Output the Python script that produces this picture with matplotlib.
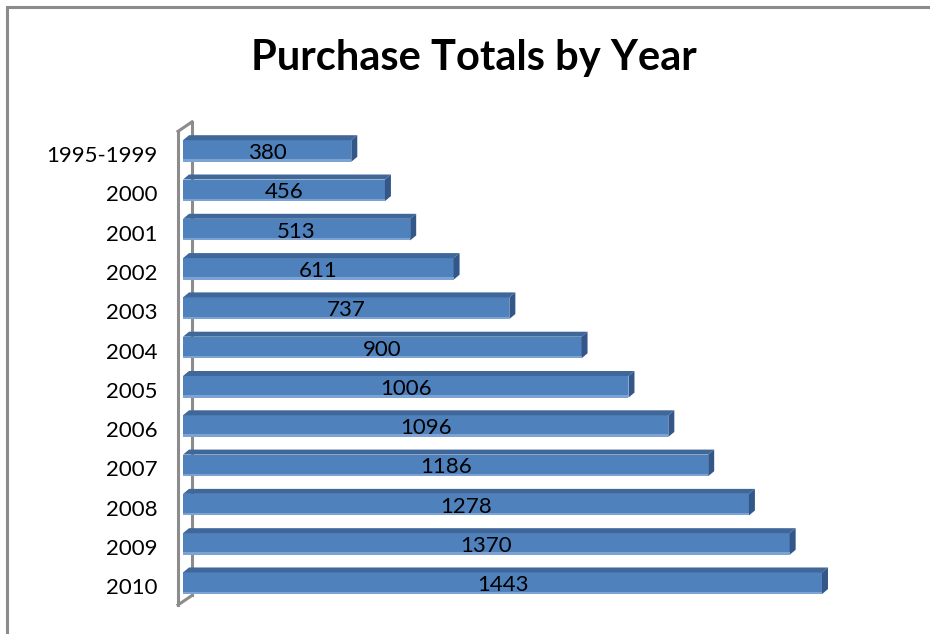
import numpy as np
import matplotlib
matplotlib.use('Agg')
from matplotlib import pyplot
from matplotlib import transforms
from matplotlib.patches import Polygon, Rectangle
from matplotlib.lines import Line2D


years = ['1995-1999', '2000', '2001', '2002', '2003', '2004', '2005',
         '2006', '2007', '2008', '2009', '2010']
totals = [380, 456, 513, 611, 737, 900, 1006, 1096, 1186, 1278, 1370, 1443]

pyplot.rcParams['font.family'] = ['Lato', 'DejaVu Sans']

front_color = '#4F81BD'
top_color = '#3F6799'
side_color = '#34578A'
strip_color = '#7DA3D4'
wall_color = '#8C8C8C'

fig = pyplot.figure(figsize=(9.3, 6.34), dpi=100)
ax = fig.add_axes([0.1968, 0.049, 0.7618, 0.7928 - 0.049])
ax.set_xlim(0, 1600)
ax.set_ylim(len(years) - 0.5, -0.5)
ax.set_facecolor('none')
for s in ax.spines.values():
    s.set_visible(False)
ax.set_xticks([])

# pixel -> data scale so the 3d faces keep a fixed depth on screen
o = ax.transData.transform((0, 0))
sx = ax.transData.transform((1, 0))[0] - o[0]
sy = o[1] - ax.transData.transform((0, 1))[1]
dx, dy = 6 / sx, 5 / sy

down = transforms.ScaledTranslation(0, -0.02, fig.dpi_scale_trans)

pos = np.arange(len(years))
h = 0.55
ax.barh(pos, totals, height=h, color=front_color, zorder=3)
for p, v in zip(pos, totals):
    yt, yb = p - h / 2, p + h / 2
    ax.add_patch(Polygon([(0, yt), (dx, yt - dy), (v + dx, yt - dy), (v, yt)],
                         closed=True, facecolor=top_color, edgecolor='none', zorder=3))
    ax.add_patch(Polygon([(v, yt), (v + dx, yt - dy), (v + dx, yb - dy), (v, yb)],
                         closed=True, facecolor=side_color, edgecolor='none', zorder=3))
    ax.add_patch(Rectangle((0, yb - 2.5 / sy), v, 2.5 / sy, facecolor=strip_color,
                           edgecolor='none', zorder=3))
    ax.text(v / 2, p, str(v), ha='center', va='center', fontsize=16, zorder=5,
            transform=ax.transData + down)

# left wall of the 3d plot area
fx = -5 / sx
wx, wy = 14 / sx, 9.5 / sy
y0, y1 = -0.5, len(years) - 0.5 + 2 / sy
kw = dict(color=wall_color, lw=2.2, clip_on=False, solid_capstyle='projecting')
ax.add_line(Line2D([fx + wx, fx + wx], [y0 - wy, y1 - wy], zorder=1, **kw))
ax.add_line(Line2D([fx, fx + wx], [y0, y0 - wy], zorder=1, **kw))
ax.add_line(Line2D([fx, fx + wx], [y1, y1 - wy], zorder=1, **kw))
ax.add_line(Line2D([fx, fx], [y0, y1], zorder=4, **kw))

ax.set_yticks(pos)
ax.set_yticklabels(years, fontsize=16)
ax.tick_params(axis='y', length=0, pad=18.5)
shift = transforms.ScaledTranslation(0, -0.03, fig.dpi_scale_trans)
for label in ax.get_yticklabels():
    label.set_transform(label.get_transform() + shift)

fig.text(0.5097, 1 - 70 / 634, 'Purchase Totals by Year', ha='center',
         va='baseline', fontsize=30, fontweight='bold')

# chart border
fig.add_artist(Rectangle((7 / 930, -0.5), 2, 1.5 - 7 / 634, transform=fig.transFigure,
                         fill=False, edgecolor=wall_color, lw=2.2))

fig.savefig('out.png', dpi=100)
